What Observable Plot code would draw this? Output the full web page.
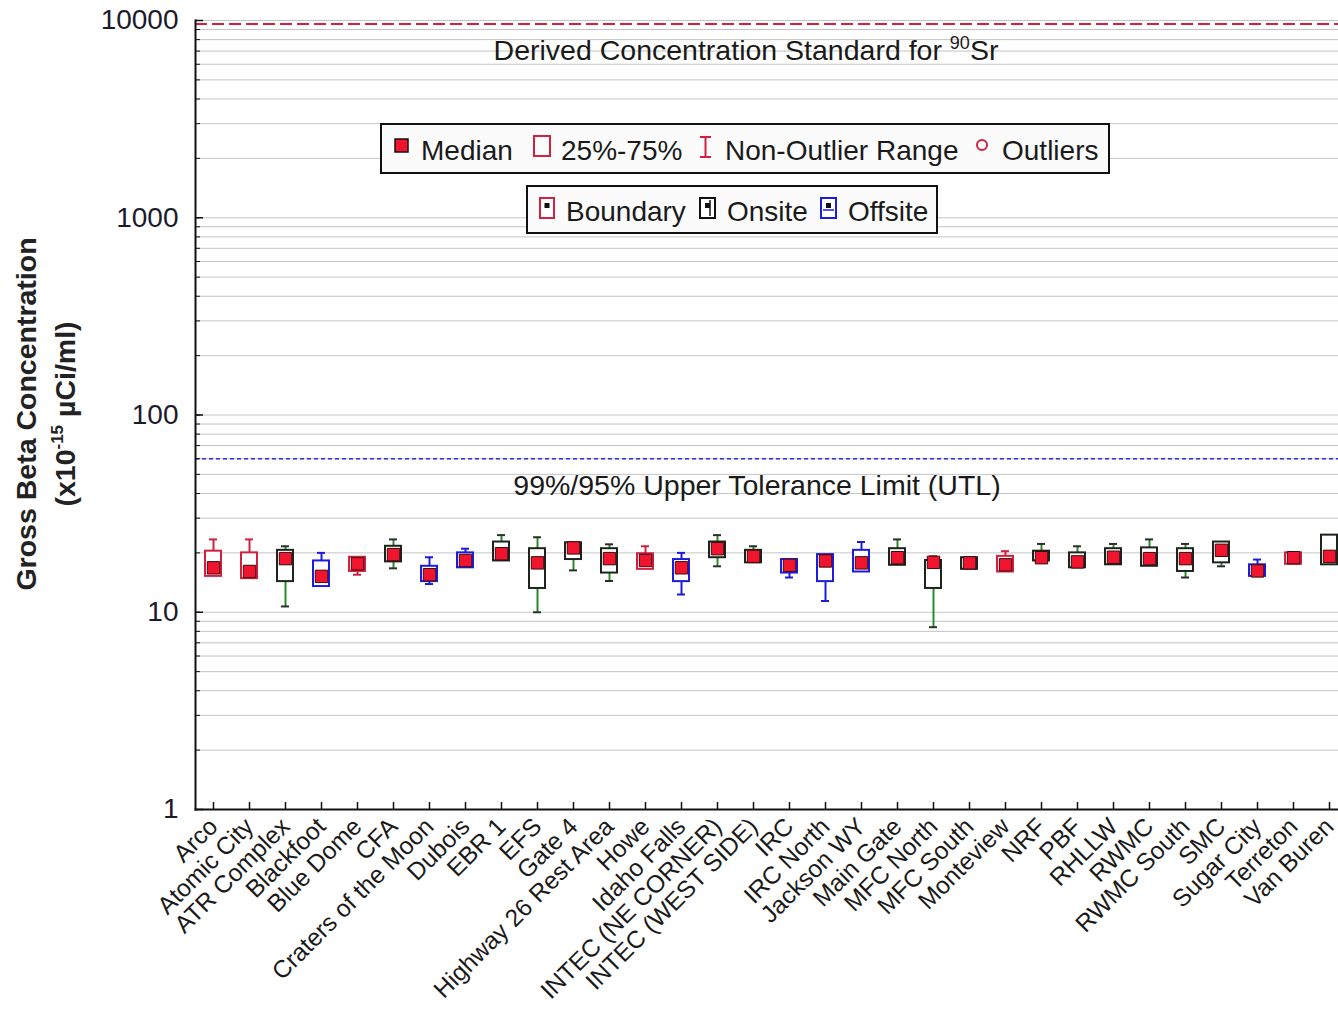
<!DOCTYPE html>
<html><head><meta charset="utf-8">
<script src="https://cdn.jsdelivr.net/npm/d3@7"></script>
<script src="https://cdn.jsdelivr.net/npm/@observablehq/plot@0.6"></script>
<style>
html,body{margin:0;padding:0;background:#fff;overflow:hidden;}
#chart{position:relative;width:1338px;height:1011px;overflow:hidden;}
#chart svg{display:block;max-width:none !important;}
</style></head><body><div id="chart"></div>
<script>
const sites = ["Arco","Atomic City","ATR Complex","Blackfoot","Blue Dome","CFA","Craters of the Moon","Dubois","EBR 1","EFS","Gate 4","Highway 26 Rest Area","Howe","Idaho Falls","INTEC (NE CORNER)","INTEC (WEST SIDE)","IRC","IRC North","Jackson WY","Main Gate","MFC North","MFC South","Monteview","NRF","PBF","RHLLW","RWMC","RWMC South","SMC","Sugar City","Terreton","Van Buren"];
const groups = ["Boundary","Boundary","Onsite","Offsite","Boundary","Onsite","Offsite","Offsite","Onsite","Onsite","Onsite","Onsite","Boundary","Offsite","Onsite","Onsite","Offsite","Offsite","Offsite","Onsite","Onsite","Onsite","Boundary","Onsite","Onsite","Onsite","Onsite","Onsite","Onsite","Offsite","Boundary","Onsite"];
const lowWhisker  = [15.2,14.8,10.7,13.5,15.5,16.7,13.9,16.8,18.2,10.0,16.3,14.4,16.5,12.3,17.1,17.8,15.0,11.4,16.0,17.3, 8.4,16.5,16.0,18.2,16.8,17.4,17.1,15.0,17.1,15.2,17.5,17.4];
const q1          = [15.2,14.8,14.3,13.5,16.1,18.0,14.3,16.8,18.2,13.2,18.5,15.8,16.5,14.3,18.9,17.8,15.8,14.3,16.0,17.3,13.2,16.5,16.0,18.2,16.8,17.4,17.1,16.1,17.8,15.2,17.5,17.4];
const median      = [16.8,16.1,18.7,15.2,17.6,19.6,15.5,18.3,19.8,17.8,21.2,18.7,18.3,16.8,21.0,19.2,17.3,18.2,17.8,18.9,17.9,17.8,17.4,18.9,18.0,19.0,18.7,18.7,20.6,16.2,18.9,19.2];
const q3          = [20.4,20.0,20.6,18.2,19.0,21.6,17.1,20.0,22.7,21.0,22.5,21.0,19.8,18.5,22.7,20.6,18.5,19.6,20.6,21.0,18.3,18.9,19.2,20.4,20.0,21.0,21.2,21.0,22.7,17.4,20.0,24.6];
const highWhisker = [23.4,23.4,21.6,20.0,19.0,23.4,19.0,21.0,24.6,24.0,22.5,22.1,21.6,20.0,24.6,21.6,18.5,19.6,22.7,23.4,19.2,18.9,20.4,22.2,21.6,22.2,23.4,22.2,22.7,18.5,20.0,24.6];
const dcsLimit = 9600;   // Derived Concentration Standard for 90Sr
const utlLimit = 60;     // 99%/95% Upper Tolerance Limit
const yTickLabels = [1, 10, 100, 1000, 10000];

const boxColor = {Boundary:"#d2203e", Onsite:"#1c241c", Offsite:"#1c1ce0"};
const whiskerColor = {Boundary:"#d2203e", Onsite:"#2a8a2a", Offsite:"#1c1ce0"};
const capColor = {Boundary:"#d2203e", Onsite:"#283028", Offsite:"#1c1ce0"};

const data = sites.map((s, i) => ({
  site: s, group: groups[i], lo: lowWhisker[i], q1: q1[i], median: median[i], q3: q3[i], hi: highWhisker[i]
}));
const minorTicks = d3.scaleLog().domain([1, 10000]).ticks();
const font = "'Liberation Sans', Arial, sans-serif";

const W = 1347, H = 1011, mL = 195, mR = 0, mT = 20, mB = 202;
const frameW = W - mL - mR, frameH = H - mT - mB;

const chart = Plot.plot({
  width: W, height: H,
  marginLeft: mL, marginRight: mR, marginTop: mT, marginBottom: mB,
  style: {fontFamily: font, background: "transparent", color: "#1a1a1a", maxWidth: "none"},
  x: {type: "band", domain: sites, padding: 0, label: null},
  y: {type: "log", domain: [1, 10000], label: null},
  color: {type: "identity"},
  marks: [
    Plot.gridY(minorTicks, {stroke: "#c4c4c4", strokeOpacity: 1, strokeWidth: 1}),
    Plot.ruleY([dcsLimit], {stroke: "#d2203e", strokeWidth: 2, strokeDasharray: "12,5"}),
    Plot.ruleY([utlLimit], {stroke: "#2a2ae0", strokeWidth: 1.5, strokeDasharray: "4,3"}),
    // inward-pointing tick marks
    Plot.ruleY(minorTicks, {stroke: "#111", strokeWidth: 1, insetRight: frameW - 5}),
    Plot.ruleY(yTickLabels, {stroke: "#111", strokeWidth: 1.5, insetRight: frameW - 8}),
    Plot.ruleX(sites, {x: d => d, stroke: "#111", strokeWidth: 1.5, insetTop: frameH - 7}),
    Plot.axisY(yTickLabels, {tickSize: 0, tickPadding: 17, fontSize: 28, tickFormat: d => String(d), label: null, fill: "#1a1a2a"}),
    Plot.axisX({tickRotate: -45, tickSize: 0, tickPadding: 13, fontSize: 24.5, label: null, fill: "#1a1a1a"}),
    Plot.frame({anchor: "left", stroke: "#111", strokeWidth: 2}),
    Plot.frame({anchor: "bottom", stroke: "#111", strokeWidth: 2}),
    Plot.ruleX(data, {x: "site", y1: "lo", y2: "hi", stroke: d => whiskerColor[d.group], strokeWidth: 2}),
    Plot.barY(data, {x: "site", y1: "q1", y2: "q3", fill: "white", stroke: d => boxColor[d.group], strokeWidth: 2, insetLeft: 10, insetRight: 10}),
    Plot.tickY(data.filter(d => d.hi > d.q3), {x: "site", y: "hi", stroke: d => capColor[d.group], strokeWidth: 2, insetLeft: 14, insetRight: 14}),
    Plot.tickY(data.filter(d => d.lo < d.q1), {x: "site", y: "lo", stroke: d => capColor[d.group], strokeWidth: 2, insetLeft: 14, insetRight: 14}),
    Plot.dot(data, {x: "site", y: "median", symbol: "square", r: 7, fill: "#f0142e", stroke: "#3a0a10", strokeWidth: 1})
  ]
});
document.getElementById("chart").appendChild(chart);

const svg = d3.select(chart);
const ys = chart.scale("y");
const txtColor = "#1a1a1a";

// Reference line annotations
const dcs = svg.append("text").attr("x", 746).attr("y", ys.apply(dcsLimit) + 37)
  .attr("text-anchor", "middle").attr("font-size", 28.5).attr("font-family", font).attr("fill", txtColor);
dcs.append("tspan").text("Derived Concentration Standard for ");
dcs.append("tspan").text("90").attr("font-size", 18).attr("dy", -11);
dcs.append("tspan").text("Sr").attr("dy", 11);

svg.append("text").attr("x", 757).attr("y", ys.apply(utlLimit) + 37)
  .attr("text-anchor", "middle").attr("font-size", 28.5).attr("font-family", font).attr("fill", txtColor)
  .text("99%/95% Upper Tolerance Limit (UTL)");

// Y axis title
const ycy = 414;
svg.append("text").attr("transform", `translate(36,${ycy}) rotate(-90)`)
  .attr("text-anchor", "middle").attr("font-size", 28.5).attr("font-weight", "bold")
  .attr("font-family", font).attr("fill", "#222").text("Gross Beta Concentration");
const yl2 = svg.append("text").attr("transform", `translate(75,${ycy}) rotate(-90)`)
  .attr("text-anchor", "middle").attr("font-size", 28.5).attr("font-weight", "bold")
  .attr("font-family", font).attr("fill", "#222");
yl2.append("tspan").text("(x10");
yl2.append("tspan").text("-15").attr("font-size", 17).attr("dy", -12);
yl2.append("tspan").text(" µCi/ml)").attr("dy", 12);

// Legend 1
const lg = svg.append("g").attr("font-family", font).attr("font-size", 28).attr("fill", txtColor).attr("text-anchor", "start");
lg.append("rect").attr("x", 381).attr("y", 124).attr("width", 728).attr("height", 49)
  .attr("fill", "#fbfbfb").attr("stroke", "#111").attr("stroke-width", 2);
lg.append("rect").attr("x", 395).attr("y", 139).attr("width", 13).attr("height", 13)
  .attr("fill", "#f0142e").attr("stroke", "#111").attr("stroke-width", 1.5);
lg.append("text").attr("x", 421).attr("y", 160).text("Median");
lg.append("rect").attr("x", 534).attr("y", 136).attr("width", 16).attr("height", 20)
  .attr("fill", "none").attr("stroke", "#d2203e").attr("stroke-width", 2);
lg.append("text").attr("x", 561).attr("y", 160).text("25%-75%");
lg.append("path").attr("d", "M700,137H711M705.5,137V157M700,157H711")
  .attr("fill", "none").attr("stroke", "#d2203e").attr("stroke-width", 2);
lg.append("text").attr("x", 725).attr("y", 160).text("Non-Outlier Range");
lg.append("circle").attr("cx", 982).attr("cy", 145).attr("r", 5)
  .attr("fill", "none").attr("stroke", "#d2203e").attr("stroke-width", 2);
lg.append("text").attr("x", 1002).attr("y", 160).text("Outliers");

// Legend 2
lg.append("rect").attr("x", 527).attr("y", 186).attr("width", 410).attr("height", 47)
  .attr("fill", "#fbfbfb").attr("stroke", "#111").attr("stroke-width", 2);
lg.append("rect").attr("x", 540).attr("y", 198).attr("width", 14).attr("height", 20)
  .attr("fill", "white").attr("stroke", "#d2203e").attr("stroke-width", 2);
lg.append("rect").attr("x", 544.5).attr("y", 203).attr("width", 5).attr("height", 5).attr("fill", "#111");
lg.append("text").attr("x", 566).attr("y", 221).text("Boundary");
lg.append("rect").attr("x", 700).attr("y", 198).attr("width", 15).attr("height", 20)
  .attr("fill", "white").attr("stroke", "#111").attr("stroke-width", 2);
lg.append("rect").attr("x", 705).attr("y", 203).attr("width", 5).attr("height", 5).attr("fill", "#111");
lg.append("path").attr("d", "M710,200V216").attr("stroke", "#111").attr("stroke-width", 1.5);
lg.append("text").attr("x", 727).attr("y", 221).text("Onsite");
lg.append("rect").attr("x", 821).attr("y", 198).attr("width", 15).attr("height", 20)
  .attr("fill", "white").attr("stroke", "#1c1ce0").attr("stroke-width", 2);
lg.append("rect").attr("x", 826).attr("y", 203).attr("width", 5).attr("height", 5).attr("fill", "#111");
lg.append("path").attr("d", "M823,210H834").attr("stroke", "#1c1ce0").attr("stroke-width", 1.5);
lg.append("text").attr("x", 848).attr("y", 221).text("Offsite");
</script></body></html>
